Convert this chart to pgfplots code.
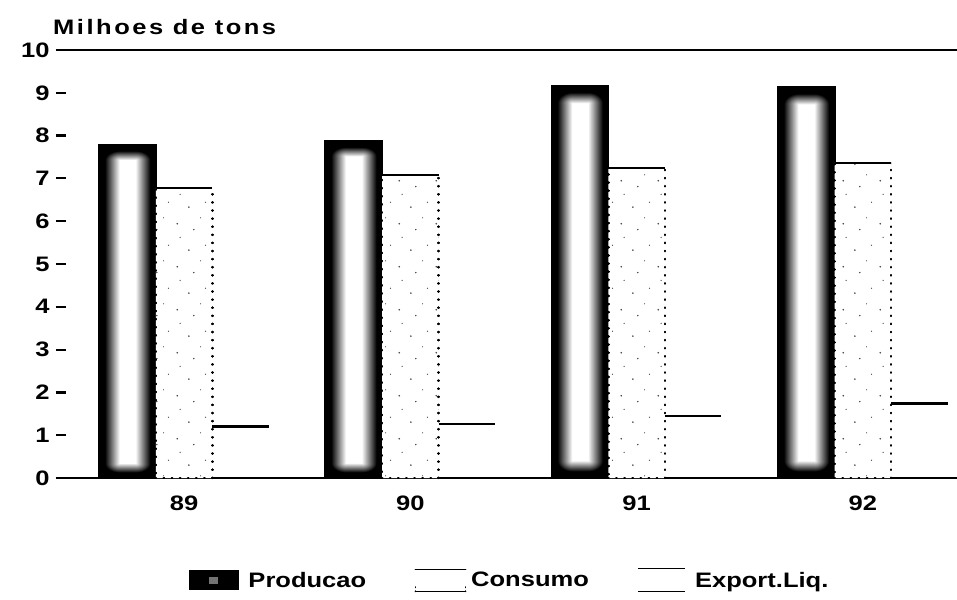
\documentclass[border=0pt]{standalone}
\usepackage{fontspec}
\setmainfont{Liberation Sans}[FakeStretch=1.22]
\usepackage{pgfplots}
\pgfplotsset{compat=1.18}
\usetikzlibrary{patterns.meta}
\pgfdeclarefunctionalshading{prodshade}{\pgfpoint{-50bp}{-50bp}}{\pgfpoint{50bp}{50bp}}{}{
  abs 25 div 0.91 sub 18 mul dup 0 lt {pop 0} if
  exch abs 25 div 0.28 sub 1.92 mul dup 0 lt {pop 0} if
  dup mul exch dup mul add sqrt
  dup 1 gt {pop 1} if
  1 exch sub dup dup
}
\tikzdeclarepattern{name=stip, type=uncolored,
  bottom left={(0bp,0bp)}, top right={(37bp,43bp)}, tile size={(37bp,43bp)},
  code={\fill (4bp,6bp) circle (0.9bp); \fill (21bp,11bp) circle (0.7bp);
        \fill (9bp,27bp) circle (0.8bp); \fill (30bp,33bp) circle (0.9bp);
        \fill (16bp,39bp) circle (0.6bp); \fill (33bp,19bp) circle (0.7bp);}}
\newcommand{\chfont}{\fontsize{21}{25}\selectfont\bfseries}
\begin{document}
\begin{tikzpicture}
\begin{axis}[
  at={(0,0)}, anchor=south west,
  scale only axis, width=901bp, height=428bp,
  xmin=-0.566, xmax=3.416, ymin=0, ymax=10,
  separate axis lines,
  x axis line style={line width=2.8bp},
  y axis line style={draw=none},
  xtick={0,1,2,3}, xticklabels={89,90,91,92},
  xtick style={draw=none},
  xticklabel style={yshift=-14bp},
  ytick={0,1,...,10},
  ytick pos=left, tick align=inside,
  major tick length=10bp,
  ytick style={line width=2.2bp, black},
  yticklabel style={xshift=-3bp},
  tick label style={font=\chfont},
  /pgf/number format/assume math mode=true,
  clip=false,
  legend style={at={(0.1476,-0.238)}, anchor=west, draw=none, fill=none,
    inner sep=0pt, outer sep=0pt,
    font=\chfont, legend columns=3,
    nodes={inner xsep=1.5bp},
    /tikz/every even column/.append style={column sep=47bp}},
]
% Producao (one plot per bar so that each bar gets its own shading)
\addplot[ybar, bar width=0.25, bar shift=-0.25, draw=black, line width=2bp,
  shade, shading=prodshade,
  legend image code/.code={
    \pgfpathrectangle{\pgfpoint{0bp}{-10bp}}{\pgfpoint{50bp}{20bp}}%
    \pgfsetfillcolor{black}\pgfusepath{fill}%
    \pgfpathrectangle{\pgfpoint{20bp}{-4bp}}{\pgfpoint{9bp}{7bp}}%
    \pgfsetfillcolor{black!55}\pgfusepath{fill}%
    \pgfpathmoveto{\pgfpoint{58bp}{0bp}}\pgfusepath{}}]
  coordinates {(0,7.78)};
\addlegendentry{Producao}
\addplot[forget plot, ybar, bar width=0.25, bar shift=-0.25, draw=black, line width=2bp,
  shade, shading=prodshade] coordinates {(1,7.87)};
\addplot[forget plot, ybar, bar width=0.25, bar shift=-0.25, draw=black, line width=2bp,
  shade, shading=prodshade] coordinates {(2,9.17)};
\addplot[forget plot, ybar, bar width=0.25, bar shift=-0.25, draw=black, line width=2bp,
  shade, shading=prodshade] coordinates {(3,9.14)};
% Consumo
\addplot[ybar, bar width=0.25, bar shift=0, fill=white, draw=black,
  line width=2.4bp, line cap=round, dash pattern=on 0.1bp off 8bp,
  postaction={pattern=stip, pattern color=black!75},
  legend image code/.code={
    \draw[solid, line width=1.6bp] (0bp,11bp) -- (50bp,11bp);
    \draw[solid, line width=1.6bp] (0bp,-11bp) -- (50bp,-11bp);
    \draw[line width=1.6bp, line cap=round, dash pattern=on 0.1bp off 4bp] (0bp,-11bp) -- (0bp,-3bp);
    \draw[line width=1.6bp, line cap=round, dash pattern=on 0.1bp off 4bp] (50bp,-11bp) -- (50bp,-3bp);
    \path (53bp,0bp);}]
  coordinates {(0,6.78) (1,7.08) (2,7.24) (3,7.36)};
\addlegendentry{Consumo}
\addplot[forget plot, solid, black, line width=2.2bp, unbounded coords=jump]
  coordinates {(-0.125,6.78) (0.125,6.78) (0.5,nan)
               (0.875,7.08) (1.125,7.08) (1.5,nan)
               (1.875,7.24) (2.125,7.24) (2.5,nan)
               (2.875,7.36) (3.125,7.36)};
% Export.Liq.
\addplot[solid, black, line width=2.8bp, unbounded coords=jump,
  legend image code/.code={
    \draw[solid, line width=1.6bp] (0bp,12bp) -- (47bp,12bp);
    \draw[solid, line width=1.6bp] (0bp,-11bp) -- (47bp,-11bp);
    \path (54bp,0bp);}]
  coordinates {(0.125,1.21) (0.375,1.21) (0.5,nan)
               (1.125,1.26) (1.375,1.26) (1.5,nan)
               (2.125,1.45) (2.375,1.45) (2.5,nan)
               (3.125,1.75) (3.375,1.75)};
\addlegendentry{Export.Liq.}
\end{axis}
\node[anchor=base west, font=\chfont, inner sep=0pt] at (-3bp,443bp) {\addfontfeatures{LetterSpace=12}Milhoes de tons};
\pgfresetboundingbox
\path (-56bp,-122bp) rectangle (901bp,478bp);
\end{tikzpicture}
\end{document}
